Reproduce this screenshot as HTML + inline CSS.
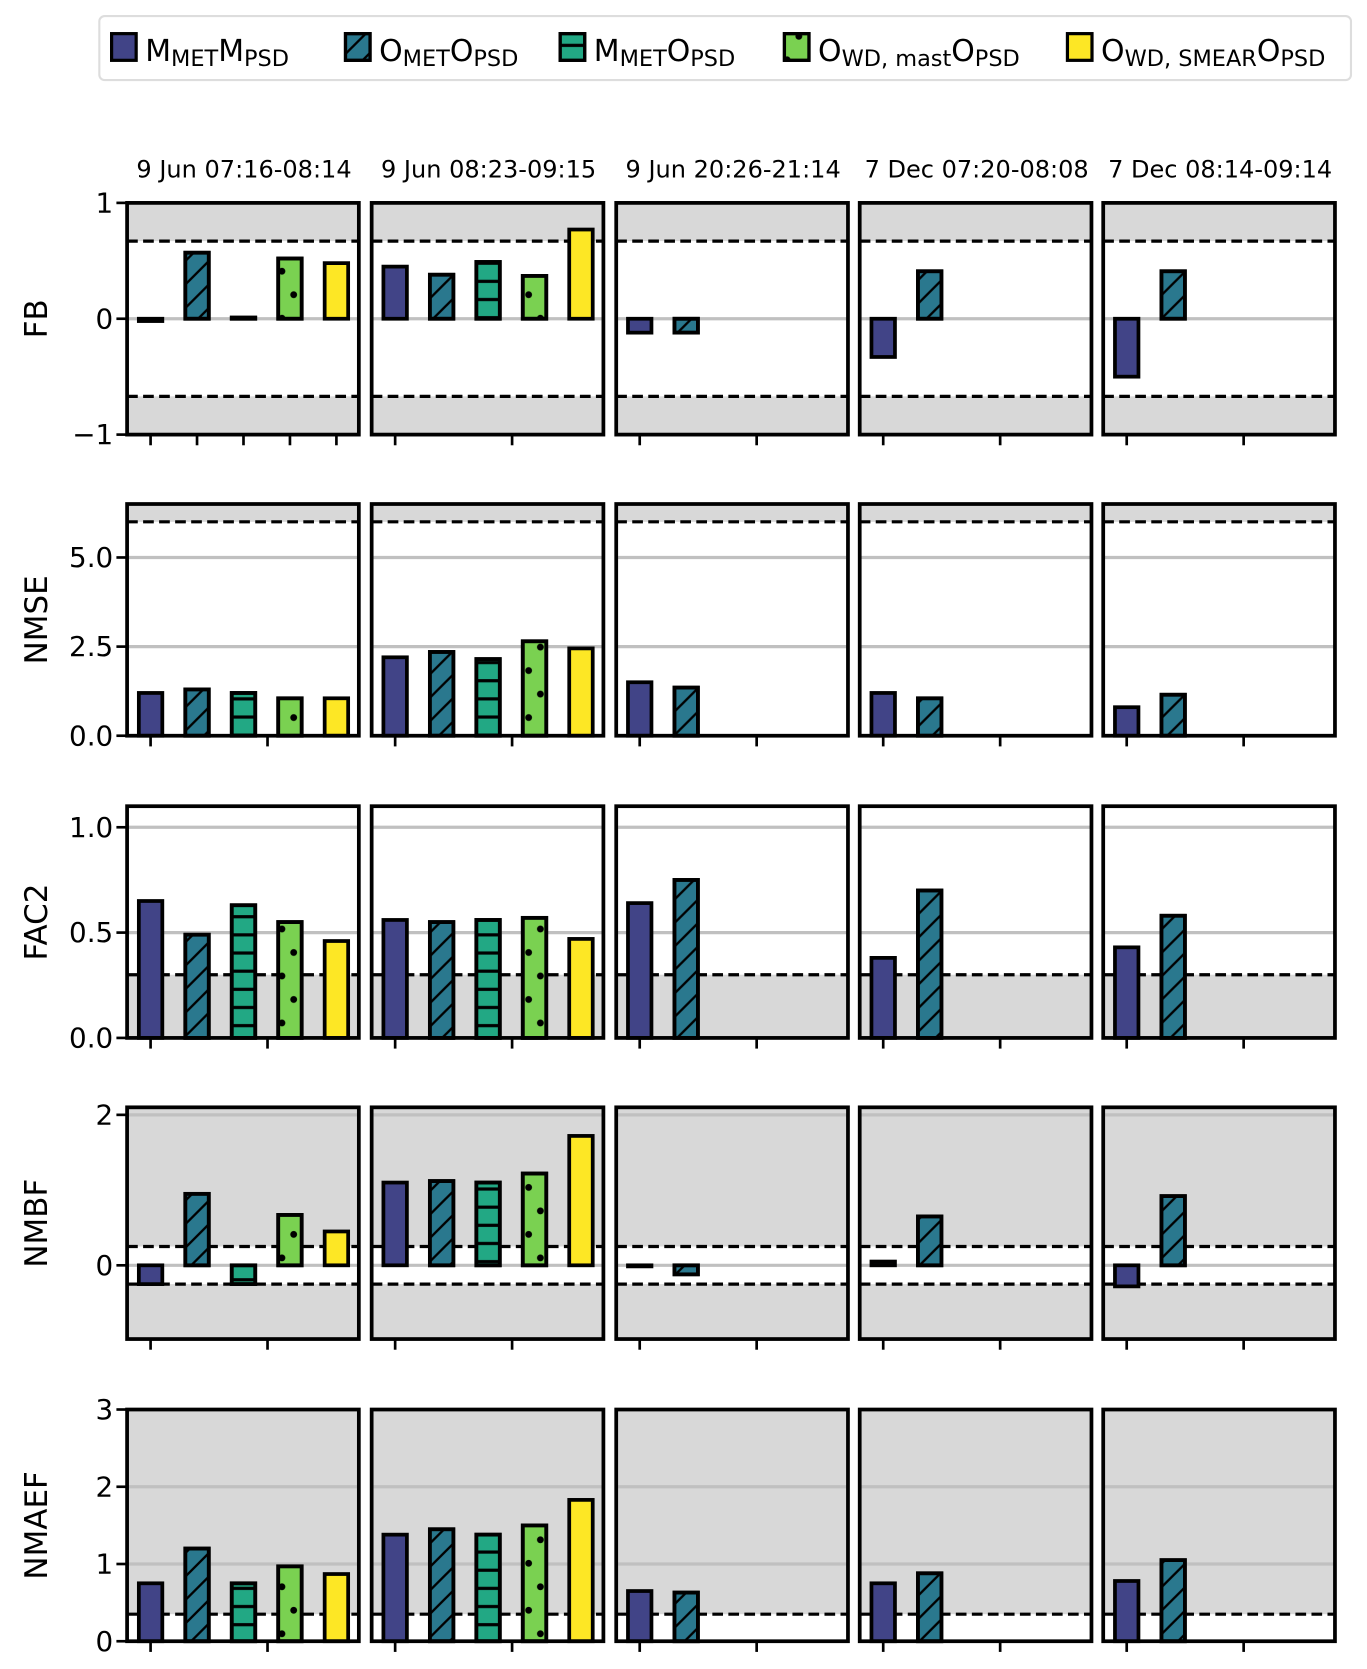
<!DOCTYPE html>
<html><head><meta charset="utf-8">
<style>
html,body{margin:0;padding:0;background:#fff;}
svg{display:block;font-family:"DejaVu Sans","Liberation Sans",sans-serif;}
</style></head>
<body>
<svg id="chart" width="1367" height="1669" viewBox="0 0 1280 1563" preserveAspectRatio="none" xmlns="http://www.w3.org/2000/svg">
<defs>
<pattern id="hatch" patternUnits="userSpaceOnUse" width="22" height="22"><path d="M-2,24 L24,-2 M-13,13 L13,-13 M9,35 L35,9" stroke="#000" stroke-width="2.2"/></pattern>
<pattern id="hline" patternUnits="userSpaceOnUse" width="22" height="17"><path d="M0,8.5 H22" stroke="#000" stroke-width="3"/></pattern>
<pattern id="dots" patternUnits="userSpaceOnUse" width="22" height="44"><circle cx="11" cy="12" r="3.2" fill="#000"/><circle cx="0" cy="34" r="3.2" fill="#000"/><circle cx="22" cy="34" r="3.2" fill="#000"/></pattern>
</defs>
<g id="root"></g>
</svg>
<script>
const groups = ["9 Jun 07:16-08:14","9 Jun 08:23-09:15","9 Jun 20:26-21:14","7 Dec 07:20-08:08","7 Dec 08:14-09:14"];
const metrics = ["FB","NMSE","FAC2","NMBF","NMAEF"];
const fbValues = [[-0.02,0.57,0.01,0.52,0.48],[0.45,0.38,0.49,0.37,0.77],[-0.12,-0.12],[-0.33,0.41],[-0.5,0.41]];
const nmseValues = [[1.2,1.3,1.2,1.05,1.05],[2.2,2.35,2.15,2.65,2.45],[1.5,1.35],[1.2,1.05],[0.8,1.15]];
const fac2Values = [[0.65,0.49,0.63,0.55,0.46],[0.56,0.55,0.56,0.57,0.47],[0.64,0.75],[0.38,0.70],[0.43,0.58]];
const nmbfValues = [[-0.25,0.95,-0.25,0.67,0.45],[1.1,1.12,1.1,1.22,1.72],[-0.01,-0.12],[0.05,0.65],[-0.28,0.92]];
const nmaefValues = [[0.75,1.2,0.75,0.97,0.87],[1.38,1.45,1.38,1.5,1.83],[0.65,0.63],[0.75,0.88],[0.78,1.05]];
const yMins = [-1,0,0,-0.98,0];
const yMaxs = [1,6.5,1.1,2.1,3];
const yTicks = [[-1,0,1],[0,2.5,5],[0,0.5,1],[0,2],[0,1,2,3]];
const yTickLabels = [["\u22121","0","1"],["0.0","2.5","5.0"],["0.0","0.5","1.0"],["0","2"],["0","1","2","3"]];
const gridVals = [[0],[2.5,5],[0.5,1],[0,2],[1,2]];
const dashVals = [[0.67,-0.67],[6],[0.3],[0.25,-0.25],[0.35]];
const whiteBands = [[-0.67,0.67],[0,6],[0.3,1.1],[-0.25,0.25],[0,0.35]];
const seriesNames = ["MMET MPSD","OMET OPSD","MMET OPSD","OWD,mast OPSD","OWD,SMEAR OPSD"];
const allValues = [fbValues,nmseValues,fac2Values,nmbfValues,nmaefValues];

const colors = ["#414487","#2a788e","#22a884","#7ad151","#fde725"];
const pats = [null,"url(#hatch)","url(#hline)","url(#dots)",null];
const NS = "http://www.w3.org/2000/svg";
const root = document.getElementById("root");
function mk(tag, attrs, parent){const e=document.createElementNS(NS,tag);for(const k in attrs)e.setAttribute(k,attrs[k]);(parent||root).appendChild(e);return e;}

const colX = [119,348,577,805,1033];
const panelW = 217;
const rowTop = [190,472,755,1037,1320];
const panelH = 217;

// legend
const lg = mk("g",{});


mk("rect",{x:93,y:15,width:1172,height:60,rx:5,fill:"#fff",stroke:"#ddd","stroke-width":2},lg);
const legX = [103,322,523,733,998];
const legMain = [["M","M"],["O","O"],["M","O"],["O","O"],["O","O"]];
const legSub = [["MET","PSD"],["MET","PSD"],["MET","PSD"],["WD, mast","PSD"],["WD, SMEAR","PSD"]];
for(let i=0;i<5;i++){
  const eg = mk("g",{},lg);
  
  
  mk("rect",{x:legX[i]+1.5,y:31.5,width:23,height:25,fill:colors[i],stroke:"#000","stroke-width":3},eg);
  if(pats[i]) mk("rect",{x:legX[i]+1.5,y:31.5,width:23,height:25,fill:pats[i],stroke:"#000","stroke-width":3},eg);
  const t = mk("text",{x:legX[i]+33,y:57,"font-size":28,fill:"#000"},eg);
  const a=mk("tspan",{},t);a.textContent=legMain[i][0];
  const b=mk("tspan",{"font-size":21,dy:5},t);b.textContent=legSub[i][0];
  const c=mk("tspan",{dy:-5},t);c.textContent=legMain[i][1];
  const d=mk("tspan",{"font-size":21,dy:5},t);d.textContent=legSub[i][1];
}

// titles
for(let g=0;g<5;g++){
  const t=mk("text",{x:colX[g]+panelW/2+1,y:166,"text-anchor":"middle","font-size":22.5});
  
  
  t.textContent=groups[g];
}

for(let r=0;r<5;r++){
  const y0=rowTop[r], mn=yMins[r], mx=yMaxs[r];
  const ys = v => y0 + panelH*(mx - v)/(mx-mn);
  const yl = mk("text",{transform:`translate(44,${y0+panelH/2}) rotate(-90)`,"text-anchor":"middle","font-size":29});
  
  
  yl.textContent=metrics[r];
  yTicks[r].forEach((v,k)=>{
    const t=mk("text",{x:106,y:ys(v)+9,"text-anchor":"end","font-size":26});
    
    
    t.textContent=yTickLabels[r][k];
    mk("line",{x1:109,x2:119,y1:ys(v),y2:ys(v),stroke:"#000","stroke-width":2.5});
  });
  for(let g=0;g<5;g++){
    const x0=colX[g];
    const pg=mk("g",{});
    
    
    mk("rect",{x:x0,y:y0,width:panelW,height:panelH,fill:"#d8d8d8"},pg);
    const wb=whiteBands[r];
    mk("rect",{x:x0,y:ys(Math.min(wb[1],mx)),width:panelW,height:ys(Math.max(wb[0],mn))-ys(Math.min(wb[1],mx)),fill:"#fff"},pg);
    gridVals[r].forEach(v=>mk("line",{x1:x0,x2:x0+panelW,y1:ys(v),y2:ys(v),stroke:"#c0c0c0","stroke-width":3},pg));
    dashVals[r].forEach(v=>mk("line",{x1:x0,x2:x0+panelW,y1:ys(v),y2:ys(v),stroke:"#000","stroke-width":3,"stroke-dasharray":"10,5"},pg));
    const vals=allValues[r][g];
    vals.forEach((v,i)=>{
      const cx=x0+22+i*43.5;
      const top=ys(Math.max(v,0)), bot=ys(Math.min(v,0));
      const h=Math.max(bot-top,1);
      const bar=mk("rect",{x:cx-11,y:top,width:22,height:h,fill:colors[i],stroke:"#000","stroke-width":3.5},pg);
      
      
      if(pats[i]) mk("rect",{x:cx-11,y:top,width:22,height:h,fill:pats[i],stroke:"#000","stroke-width":3.5},pg);
    });
    mk("rect",{x:x0,y:y0,width:panelW,height:panelH,fill:"none",stroke:"#000","stroke-width":3.5},pg);
    const ticks = (r===0&&g===0)?[0,1,2,3,4].map(i=>x0+22+i*43.5):[x0+22,x0+22+109.5];
    ticks.forEach(tx=>mk("line",{x1:tx,x2:tx,y1:y0+panelH,y2:y0+panelH+10,stroke:"#000","stroke-width":2.5},pg));
  }
}
</script>
</body></html>
